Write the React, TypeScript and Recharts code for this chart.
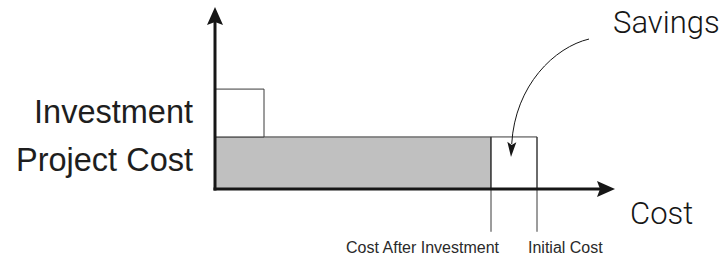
import { ComposedChart, XAxis, YAxis, ReferenceArea, ReferenceLine } from 'recharts'

// cost axis: 0..100, level axis: -25..100 (negative part holds the drop lines)
const costPoints = [69, 80.5] // cost after investment, initial cost
const costLabels = ['Cost After Investment', 'Initial Cost']
const levelLabels = ['Project Cost', 'Investment']
const labelLevels = [16.2, 42.6]
const projectCost = 28.6
const investment = 26.3
const investmentSpan = 12.25
const dropTo = -23.5
const savingsFrom = { x: 93.5, y: 82.4 }
const savingsTo = { x: 74, y: 17.6 }
const axisTitle = 'Cost'
const savingsTitle = 'Savings'

const rows = costPoints.map((x) => ({ x, level: projectCost }))

const INK = '#161616'
const EDGE = '#3a3a3a'
const TITLE_FONT = 'Roboto, "DejaVu Sans", sans-serif'

function AxisArrow(props: any) {
  const { x1, y1, x2, y2, title } = props
  const dx = x2 - x1
  const dy = y2 - y1
  const len = Math.hypot(dx, dy) || 1
  const ux = dx / len
  const uy = dy / len
  const head = 18
  const half = 8
  const bx = x2 - ux * head
  const by = y2 - uy * head
  const nx = bx + ux * 3
  const ny = by + uy * 3
  return (
    <g>
      <line x1={x1 - ux * 1.5} y1={y1 - uy * 1.5} x2={nx} y2={ny} stroke={INK} strokeWidth={3} />
      <polygon
        points={`${x2},${y2} ${bx - uy * half},${by + ux * half} ${nx},${ny} ${bx + uy * half},${by - ux * half}`}
        fill={INK}
      />
      {title && (
        <text x={x2 + 15} y={y2 + 35} fontSize={31} fontFamily={TITLE_FONT} fontWeight={300} fill={INK}>
          {title}
        </text>
      )}
    </g>
  )
}

function SavingsArrow(props: any) {
  const { x1, y1, x2, y2 } = props
  const dx = x2 - x1
  const dy = y2 - y1
  const c1x = x1 + dx * 0.436
  const c1y = y1 + dy * 0.068
  const c2x = x1 + dx * 0.949
  const c2y = y1 + dy * 0.39
  // arrow head along last tangent
  const tx = x2 - c2x
  const ty = y2 - c2y
  const tl = Math.hypot(tx, ty) || 1
  const ux = tx / tl
  const uy = ty / tl
  const head = 15
  const half = 4.5
  const bx = x2 - ux * head
  const by = y2 - uy * head
  return (
    <g>
      <path
        d={`M${x1},${y1} C${c1x},${c1y} ${c2x},${c2y} ${bx + ux * 2},${by + uy * 2}`}
        fill="none"
        stroke={INK}
        strokeWidth={1}
      />
      <polygon
        points={`${x2},${y2} ${bx - uy * half},${by + ux * half} ${bx + ux * 3},${by + uy * 3} ${bx + uy * half},${by - ux * half}`}
        fill={INK}
      />
      <text x={x1 + 24} y={y1 - 6} fontSize={31} fontFamily={TITLE_FONT} fontWeight={300} fill={INK}>
        {savingsTitle}
      </text>
    </g>
  )
}

function CostTick(props: any) {
  const { x, y, index } = props
  const first = index === 0
  return (
    <text
      x={first ? x + 8 : x - 9}
      y={y}
      dy="0.71em"
      textAnchor={first ? 'end' : 'start'}
      fontSize={16}
      fontFamily="Liberation Sans, Arial, sans-serif"
      fill="#2a2a2a"
    >
      {costLabels[index]}
    </text>
  )
}

export default function App() {
  return (
    <div style={{ position: 'absolute', left: 0, top: 0, width: 728, height: 262, background: '#fff' }}>
      <ComposedChart width={728} height={262} data={rows} margin={{ top: 7, right: 113, bottom: 0, left: 0 }}>
        <XAxis
          type="number"
          dataKey="x"
          domain={[0, 100]}
          allowDataOverflow
          ticks={costPoints}
          interval={0}
          height={27.5}
          axisLine={false}
          tickLine={false}
          tickSize={0}
          tickMargin={7}
          tick={<CostTick />}
        />
        <YAxis
          type="number"
          dataKey="level"
          domain={[-25, 100]}
          allowDataOverflow
          ticks={labelLevels}
          interval={0}
          width={215}
          axisLine={false}
          tickLine={false}
          tickSize={0}
          tickMargin={22}
          tickFormatter={(_v: number, i: number) => levelLabels[i]}
          tick={{ fontSize: 32.5, fontFamily: 'Liberation Sans, Arial, sans-serif', fill: '#1e1e1e' }}
        />
        <ReferenceArea
          x1={0}
          x2={costPoints[0]}
          y1={0}
          y2={projectCost}
          fill="#c0c0c0"
          fillOpacity={1}
          stroke={EDGE}
          strokeWidth={1}
        />
        <ReferenceArea
          x1={costPoints[0]}
          x2={costPoints[1]}
          y1={0}
          y2={projectCost}
          fill="#fff"
          fillOpacity={1}
          stroke={EDGE}
          strokeWidth={1}
        />
        <ReferenceArea
          x1={0}
          x2={investmentSpan}
          y1={projectCost}
          y2={projectCost + investment}
          fill="#fff"
          fillOpacity={1}
          stroke={EDGE}
          strokeWidth={1}
        />
        {costPoints.map((c) => (
          <ReferenceLine
            key={c}
            segment={[{ x: c, y: projectCost }, { x: c, y: dropTo }]}
            stroke={EDGE}
            strokeWidth={1}
          />
        ))}
        <ReferenceLine
          segment={[savingsFrom, savingsTo]}
          shape={(p: any) => <SavingsArrow {...p} />}
        />
        <ReferenceLine
          segment={[{ x: 0, y: 0 }, { x: 0, y: 100 }]}
          shape={(p: any) => <AxisArrow {...p} />}
        />
        <ReferenceLine
          segment={[{ x: 0, y: 0 }, { x: 100, y: 0 }]}
          shape={(p: any) => <AxisArrow {...p} title={axisTitle} />}
        />
      </ComposedChart>
    </div>
  )
}
